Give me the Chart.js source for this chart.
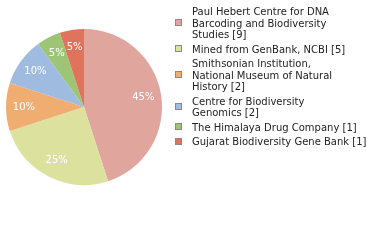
<!DOCTYPE html>
<html>
<head>
<meta charset="utf-8">
<script src="https://cdn.jsdelivr.net/npm/chart.js@4"></script>
<style>
  html, body { margin: 0; padding: 0; background: #fff; }
  #wrap { width: 380px; height: 240px; }
</style>
</head>
<body>
<div id="wrap"><canvas id="c" width="380" height="240"></canvas></div>
<script>
// Specimen depositories and record counts
const institutions = [
  ["Paul Hebert Centre for DNA", "Barcoding and Biodiversity", "Studies [9]"],
  ["Mined from GenBank, NCBI [5]"],
  ["Smithsonian Institution,", "National Museum of Natural", "History [2]"],
  ["Centre for Biodiversity", "Genomics [2]"],
  ["The Himalaya Drug Company [1]"],
  ["Gujarat Biodiversity Gene Bank [1]"]
];
const recordCounts = [9, 5, 2, 2, 1, 1];
const sliceColors = ["#e0a59c", "#dce29e", "#f0ad72", "#9fbbe0", "#9cc575", "#e0735b"];

const FONT = '10px "DejaVu Sans"';

// White percentage labels inside each slice
const sliceLabels = {
  id: 'sliceLabels',
  afterDatasetsDraw(chart) {
    const ctx = chart.ctx;
    const meta = chart.getDatasetMeta(0);
    const data = chart.data.datasets[0].data;
    const total = data.reduce((a, b) => a + b, 0);
    ctx.save();
    ctx.font = FONT;
    ctx.fillStyle = '#ffffff';
    ctx.textAlign = 'center';
    ctx.textBaseline = 'middle';
    meta.data.forEach((arc, i) => {
      const p = arc.getProps(['x', 'y', 'startAngle', 'endAngle', 'outerRadius'], true);
      const mid = (p.startAngle + p.endAngle) / 2;
      const r = p.outerRadius * 0.77;
      const pct = Math.round(data[i] / total * 100) + '%';
      ctx.fillText(pct, p.x + Math.cos(mid) * r, p.y + Math.sin(mid) * r);
    });
    ctx.restore();
  }
};

// Legend on the right with wrapped lines
const sideLegend = {
  id: 'sideLegend',
  afterDraw(chart) {
    const ctx = chart.ctx;
    const colors = chart.data.datasets[0].backgroundColor;
    const lh = 11.5, gap = 3, boxX = 175, boxSize = 7, textX = 192;
    let baseline = 15;
    ctx.save();
    ctx.font = FONT;
    ctx.textAlign = 'left';
    ctx.textBaseline = 'alphabetic';
    chart.data.labels.forEach((lines, i) => {
      const first = baseline;
      lines.forEach((line, j) => {
        ctx.fillStyle = '#222222';
        ctx.fillText(line, textX, baseline);
        if (j < lines.length - 1) baseline += lh;
      });
      const mid = ((first - 7.5) + baseline) / 2;
      ctx.fillStyle = colors[i];
      ctx.fillRect(boxX, Math.round(mid - boxSize / 2), boxSize, boxSize);
      ctx.strokeStyle = '#8a8a8a';
      ctx.lineWidth = 1;
      ctx.strokeRect(boxX + 0.5, Math.round(mid - boxSize / 2) + 0.5, boxSize - 1, boxSize - 1);
      baseline += lh + gap;
    });
    ctx.restore();
  }
};

new Chart(document.getElementById('c'), {
  type: 'pie',
  data: {
    labels: institutions,
    datasets: [{
      data: recordCounts,
      backgroundColor: sliceColors,
      borderWidth: 0
    }]
  },
  options: {
    responsive: false,
    animation: false,
    layout: { padding: { left: 6, right: 218, top: 29, bottom: 55 } },
    plugins: {
      legend: { display: false },
      tooltip: { enabled: false }
    }
  },
  plugins: [sliceLabels, sideLegend]
});
</script>
</body>
</html>
